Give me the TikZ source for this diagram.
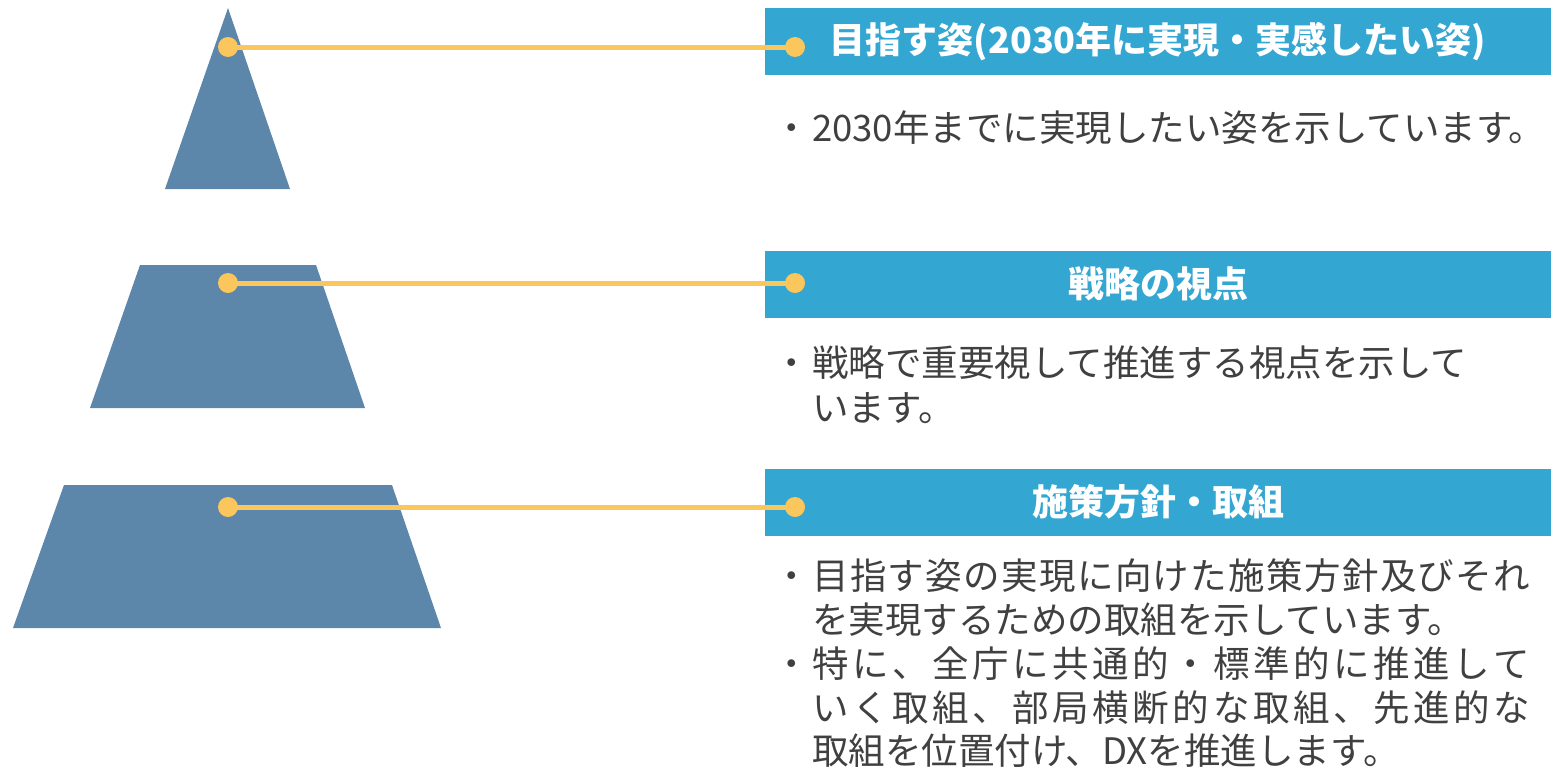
\documentclass[tikz,border=0pt]{standalone}
\usepackage{fontspec}
\setmainfont{Noto Sans CJK JP}
\definecolor{pyr}{HTML}{5C87AB}
\definecolor{hdr}{HTML}{33A6D2}
\definecolor{ylw}{HTML}{FBC65B}
\definecolor{txtgray}{HTML}{404040}
\makeatletter
\newcommand\spreadline[2]{\makebox[#1][s]{\def\jsep{}\@tfor\jch:=#2\do{\jsep\jch\def\jsep{\hfill}}}}
\makeatother
\tikzset{
  pyrshape/.style={fill=pyr, draw=none},
  hdrbox/.style={rectangle, fill=hdr, draw=none, minimum width=786pt, minimum height=67pt, inner sep=0pt,
    text=white, font=\fontsize{36}{40}\selectfont\bfseries},
  body/.style={anchor=base west, inner sep=0pt, text=txtgray, font=\fontsize{36.5}{40}\selectfont},
  bullet/.style={anchor=base, inner sep=0pt, text=txtgray, font=\fontsize{36.5}{40}\selectfont},
  conn/.style={draw=ylw, line width=5pt},
  dot/.style={circle, fill=ylw, draw=none, minimum size=20pt, inner sep=0pt},
}
\begin{document}
\begin{tikzpicture}[x=1pt, y=-1pt]
\useasboundingbox (0,0) rectangle (1551,771);
% pyramid pieces
\fill[pyrshape] (228,8) -- (290,189) -- (165,189) -- cycle;
\fill[pyrshape] (140,265) -- (316,265) -- (365,408) -- (90,408) -- cycle;
\fill[pyrshape] (64,485) -- (392,485) -- (441,628) -- (13,628) -- cycle;
% header boxes
\node[hdrbox] (h1) at (1158,41.5) {目指す姿(2030年に実現・実感したい姿)};
\node[hdrbox] (h2) at (1158,284) {戦略の視点};
\node[hdrbox] (h3) at (1158,502) {施策方針・取組};
% connector endpoints
\coordinate (a1) at (228,47);
\coordinate (b1) at (795,47);
\coordinate (a2) at (228,283);
\coordinate (b2) at (795,283);
\coordinate (a3) at (228,507);
\coordinate (b3) at (795,507);
\draw[conn] (a1) -- (b1);
\draw[conn] (a2) -- (b2);
\draw[conn] (a3) -- (b3);
\node[dot] (da1) at (a1) {};
\node[dot] (db1) at (b1) {};
\node[dot] (da2) at (a2) {};
\node[dot] (db2) at (b2) {};
\node[dot] (da3) at (a3) {};
\node[dot] (db3) at (b3) {};
% body texts
\node[bullet] (u1) at (792,141) {・};
\node[body] (t1) at (812,141) {2030年までに実現したい姿を示しています。};
\node[bullet] (u2) at (792,376) {・};
\node[body] (t2a) at (812,376) {戦略で重要視して推進する視点を示して};
\node[body] (t2b) at (812,421) {います。};
\node[bullet] (u3) at (792,589) {・};
\node[body] (t3a) at (812,589) {\spreadline{718pt}{目指す姿の実現に向けた施策方針及びそれ}};
\node[body] (t3b) at (812,633) {を実現するための取組を示しています。};
\node[bullet] (u4) at (792,677) {・};
\node[body] (t3c) at (812,677) {\spreadline{718pt}{特に、全庁に共通的・標準的に推進して}};
\node[body] (t3d) at (812,721) {\spreadline{718pt}{いく取組、部局横断的な取組、先進的な}};
\node[body] (t3e) at (812,764) {取組を位置付け、DXを推進します。};
\end{tikzpicture}
\end{document}
